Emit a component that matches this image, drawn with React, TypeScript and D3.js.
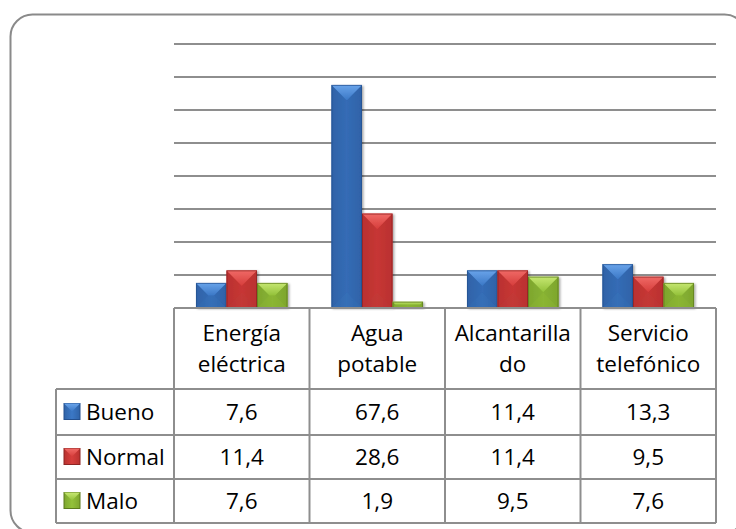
import React from "react";
import * as d3 from "d3";

const categories = ["Energía eléctrica", "Agua potable", "Alcantarillado", "Servicio telefónico"];
const headerLines = [["Energía", "eléctrica"], ["Agua", "potable"], ["Alcantarilla", "do"], ["Servicio", "telefónico"]];
const seriesNames = ["Bueno", "Normal", "Malo"];
const bueno = [7.6, 67.6, 11.4, 13.3];
const normal = [11.4, 28.6, 11.4, 9.5];
const malo = [7.6, 1.9, 9.5, 7.6];
const valueLabels = [
  ["7,6", "67,6", "11,4", "13,3"],
  ["11,4", "28,6", "11,4", "9,5"],
  ["7,6", "1,9", "9,5", "7,6"],
];
const yTicks = [10, 20, 30, 40, 50, 60, 70, 80];

const W = 736;
const H = 529;
const plotLeft = 174;
const plotRight = 716;
const plotTop = 44;
const plotBottom = 308;
const legendLeft = 56;
const rowLines = [308, 389, 435, 479, 523];

const palette = [
  { base: "#3b78c6", light: "#6aa4ea", dark: "#24508f", side: "#2f63a8", bottom: "#3269ae" },
  { base: "#d63e3c", light: "#f06a66", dark: "#8e2423", side: "#b93230", bottom: "#b83533" },
  { base: "#93c13a", light: "#c6e772", dark: "#5c7b1d", side: "#7ea62e", bottom: "#86ad30" },
];

const FONT = "'Open Sans', sans-serif";
const GRID = "#8e8e8e";

function Bar({ x, y, w, h, c, id }: any) {
  if (h <= 0) return null;
  const d = Math.min(w / 2, h / 2);
  const top = `${x},${y} ${x + w},${y} ${x + w - d},${y + d} ${x + d},${y + d}`;
  const bottom = `${x},${y + h} ${x + w},${y + h} ${x + w - d},${y + h - d} ${x + d},${y + h - d}`;
  const left = `${x},${y} ${x + d},${y + d} ${x + d},${y + h - d} ${x},${y + h}`;
  const right = `${x + w},${y} ${x + w - d},${y + d} ${x + w - d},${y + h - d} ${x + w},${y + h}`;
  return (
    <g filter="url(#shadow)">
      <rect x={x} y={y} width={w} height={h} fill={`url(#body${id})`} />
      <polygon points={left} fill={c.side} opacity={0.55} />
      <polygon points={right} fill={c.side} opacity={0.55} />
      <polygon points={top} fill={`url(#top${id})`} />
      <polygon points={bottom} fill={c.bottom} opacity={0.6} />
      <rect x={x + 0.5} y={y + 0.5} width={w - 1} height={h - 1} fill="none" stroke={c.dark} strokeWidth={1} opacity={0.7} />
    </g>
  );
}

function LegendKey({ x, y, s, c, id }: any) {
  const d = s / 2;
  return (
    <g>
      <rect x={x} y={y} width={s} height={s} fill={`url(#body${id})`} stroke={c.dark} strokeWidth={1} />
      <polygon points={`${x},${y} ${x + s},${y} ${x + d},${y + d}`} fill={`url(#top${id})`} />
    </g>
  );
}

export default function App() {
  const values = [bueno, normal, malo];
  const x = d3.scaleBand<string>().domain(categories).range([plotLeft, plotRight]).paddingInner(0).paddingOuter(0);
  const xInner = d3.scaleBand<string>().domain(seriesNames).range([0, x.bandwidth()]).paddingInner(0).paddingOuter(0.72);
  const y = d3.scaleLinear().domain([0, 80]).range([plotBottom, plotTop]);
  const colEdges = [plotLeft, ...categories.map((c) => (x(c) as number) + x.bandwidth())];

  return (
    <svg width={W} height={H} style={{ position: "fixed", left: 0, top: 0, background: "#fff" }} fontFamily={FONT}>
      <defs>
        <filter id="shadow" x="-20%" y="-10%" width="150%" height="130%">
          <feDropShadow dx="1.5" dy="1" stdDeviation="1.2" floodColor="#000" floodOpacity="0.35" />
        </filter>
        {palette.map((c, i) => (
          <React.Fragment key={i}>
            <linearGradient id={`body${i}`} x1="0" x2="1" y1="0" y2="0">
              <stop offset="0" stopColor={c.side} />
              <stop offset="0.5" stopColor={c.base} />
              <stop offset="1" stopColor={c.side} />
            </linearGradient>
            <linearGradient id={`top${i}`} x1="0" x2="0" y1="0" y2="1">
              <stop offset="0" stopColor={c.light} />
              <stop offset="1" stopColor={c.base} />
            </linearGradient>
          </React.Fragment>
        ))}
      </defs>

      <rect x={10.5} y={14.5} width={736} height={518} rx={22} fill="#fff" stroke="#8a8a8a" strokeWidth={2} />

      {yTicks.map((t) => (
        <line key={t} x1={plotLeft} x2={plotRight} y1={y(t)} y2={y(t)} stroke={GRID} strokeWidth={2} />
      ))}

      {values.map((vals, si) =>
        categories.map((cat, ci) => {
          const bx = (x(cat) as number) + (xInner(seriesNames[si]) as number);
          const by = y(vals[ci]);
          return (
            <Bar key={`${si}-${ci}`} x={bx} y={by} w={xInner.bandwidth()} h={plotBottom - by} c={palette[si]} id={si} />
          );
        })
      )}

      {/* table lines */}
      <g stroke={GRID} strokeWidth={2} fill="none">
        <line x1={plotLeft} x2={plotRight} y1={rowLines[0]} y2={rowLines[0]} />
        {rowLines.slice(1).map((ry) => (
          <line key={ry} x1={legendLeft} x2={plotRight} y1={ry} y2={ry} />
        ))}
        <line x1={legendLeft} x2={legendLeft} y1={rowLines[1]} y2={rowLines[4]} />
        {colEdges.map((cx) => (
          <line key={cx} x1={cx} x2={cx} y1={rowLines[0]} y2={rowLines[4]} />
        ))}
      </g>

      {/* header */}
      {categories.map((cat, ci) => {
        const cx = (x(cat) as number) + x.bandwidth() / 2;
        const mid = (rowLines[0] + rowLines[1]) / 2;
        return (
          <text key={cat} x={cx} textAnchor="middle" fontSize={22.5} fill="#000">
            <tspan x={cx} y={mid - 7.5}>{headerLines[ci][0]}</tspan>
            <tspan x={cx} y={mid + 23.5}>{headerLines[ci][1]}</tspan>
          </text>
        );
      })}

      {/* rows */}
      {seriesNames.map((s, si) => {
        const r0 = rowLines[si + 1];
        const r1 = rowLines[si + 2];
        const mid = (r0 + r1) / 2;
        return (
          <g key={s}>
            <LegendKey x={64} y={mid - 8.5} s={16} c={palette[si]} id={si} />
            <text x={86} y={mid + 8} fontSize={22.5} fill="#000">{s}</text>
            {categories.map((cat, ci) => (
              <text key={cat} x={(x(cat) as number) + x.bandwidth() / 2} y={mid + 8} textAnchor="middle" fontSize={22.5} fill="#000">
                {valueLabels[si][ci]}
              </text>
            ))}
          </g>
        );
      })}
    </svg>
  );
}
